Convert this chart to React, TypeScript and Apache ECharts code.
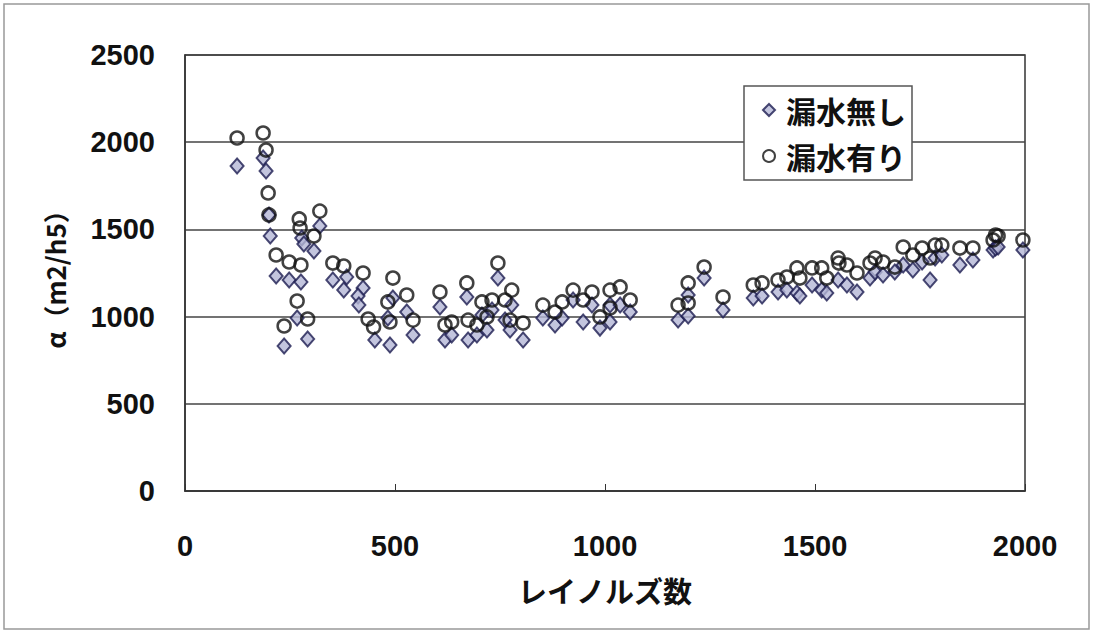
import React, { useEffect, useRef } from "react";
import * as echarts from "echarts";

// レイノルズ数 (x) and α (y) for 漏水無し (diamonds)
const noLeakRe = [124, 186, 193, 200, 203, 217, 248, 276, 278, 283, 267, 236, 292, 321, 307, 352, 378, 385, 424, 412, 414, 452,
  495, 483, 488, 528, 543, 607, 619, 635, 671, 674, 695, 707, 719, 731, 745, 762, 778, 774, 805, 852, 881, 898,
  924, 948, 969, 988, 1012, 1012, 1036, 1060, 1174, 1198, 1198, 1236, 1281, 1353, 1374, 1412, 1433, 1457, 1464,
  1493, 1516, 1528, 1555, 1576, 1600, 1631, 1643, 1662, 1690, 1710, 1733, 1755, 1774, 1786, 1802, 1845, 1876,
  1924, 1930, 1936, 1995];
const noLeakAlpha = [1864, 1909, 1835, 1583, 1462, 1233, 1210, 1198, 1451, 1416, 992, 831, 872, 1519, 1376, 1210, 1152, 1227, 1164, 1118, 1066, 866,
  1107, 992, 837, 1026, 894, 1055, 866, 894, 1112, 866, 894, 1009, 923, 1038, 1221, 980, 1066, 923, 866, 992, 952, 992,
  1095, 969, 1066, 934, 1066, 969, 1066, 1026, 980, 1124, 1003, 1221, 1038, 1107, 1118, 1141, 1152, 1135, 1118,
  1181, 1152, 1135, 1210, 1181, 1141, 1221, 1256, 1238, 1256, 1296, 1267, 1313, 1210, 1336, 1353, 1296, 1324,
  1382, 1393, 1399, 1382];

// レイノルズ数 (x) and α (y) for 漏水有り (circles)
const leakRe = [124, 186, 193, 198, 200, 217, 248, 276, 272, 274, 267, 236, 292, 321, 307, 352, 378, 424, 436, 449,
  495, 483, 488, 528, 543, 607, 619, 635, 671, 674, 695, 707, 719, 731, 745, 762, 778, 774, 805, 852, 881, 898,
  924, 948, 969, 988, 1012, 1012, 1036, 1060, 1174, 1198, 1198, 1236, 1281, 1353, 1374, 1412, 1433, 1457, 1464,
  1493, 1516, 1528, 1555, 1557, 1576, 1600, 1631, 1643, 1662, 1690, 1710, 1733, 1755, 1774, 1786, 1802, 1845, 1876,
  1924, 1930, 1936, 1995];
const leakAlpha = [2024, 2053, 1955, 1709, 1583, 1353, 1313, 1296, 1560, 1508, 1089, 946, 986, 1605, 1462, 1307, 1290, 1250, 986, 940,
  1221, 1084, 969, 1124, 980, 1141, 952, 969, 1193, 980, 952, 1084, 998, 1095, 1307, 1095, 1152, 980, 963, 1066, 1026, 1084,
  1152, 1095, 1141, 998, 1152, 1049, 1170, 1095, 1066, 1193, 1078, 1284, 1112, 1181, 1193, 1210, 1227, 1279, 1221,
  1279, 1279, 1221, 1336, 1307, 1296, 1250, 1307, 1336, 1313, 1284, 1399, 1353, 1393, 1336, 1410, 1410, 1393, 1393,
  1439, 1468, 1462, 1439];

const seriesNames = ["漏水無し", "漏水有り"];
const xTicks = [0, 500, 1000, 1500, 2000];
const yTicks = [0, 500, 1000, 1500, 2000, 2500];

export default function App() {
  const ref = useRef<HTMLDivElement>(null);
  useEffect(() => {
    document.body.style.margin = "0";
    const chart = echarts.init(ref.current!, null, { renderer: "svg" });
    const font = "'Liberation Sans', Arial, 'Noto Sans CJK JP', sans-serif";
    const jp = "'Noto Sans CJK JP', sans-serif";
    chart.setOption({
      animation: false,
      backgroundColor: "#ffffff",
      graphic: [
        {
          type: "rect",
          shape: { x: 4, y: 4, width: 1085, height: 625 },
          style: { fill: "none", stroke: "#999", lineWidth: 1.5 },
          silent: true,
        },
      ],
      grid: {
        left: 185,
        top: 55,
        right: 70,
        bottom: 144,
        show: true,
        borderColor: "#333",
        borderWidth: 1.5,
      },
      legend: {
        orient: "vertical",
        left: 744,
        top: 86,
        backgroundColor: "#fff",
        borderColor: "#555",
        borderWidth: 1.5,
        padding: [5, 6, 5, 18],
        itemGap: 8,
        itemWidth: 12,
        itemHeight: 12,
        textStyle: { fontSize: 30, lineHeight: 38, fontFamily: jp, fontWeight: "bold", color: "#111", padding: [0, 0, 0, 6] },
        data: [
          { name: seriesNames[0], icon: "diamond" },
          { name: seriesNames[1], icon: "circle" },
        ],
      },
      xAxis: {
        type: "value",
        min: xTicks[0],
        max: xTicks[xTicks.length - 1],
        interval: 500,
        name: "レイノルズ数",
        nameLocation: "middle",
        nameGap: 84,
        nameTextStyle: { fontSize: 29, fontFamily: jp, fontWeight: "bold", color: "#111" },
        axisLine: { show: true, lineStyle: { color: "#333", width: 1.5 } },
        axisTick: { show: true, inside: true, length: 7, lineStyle: { color: "#333" } },
        axisLabel: { fontSize: 29, fontFamily: font, fontWeight: "bold", color: "#111", margin: 40, formatter: (v: number) => String(v) },
        splitLine: { show: false },
      },
      yAxis: {
        type: "value",
        min: yTicks[0],
        max: yTicks[yTicks.length - 1],
        interval: 500,
        name: "α（m2/h5）",
        nameLocation: "middle",
        nameGap: 118,
        nameRotate: 90,
        nameTextStyle: { fontSize: 26, fontFamily: jp, fontWeight: "bold", color: "#111" },
        axisLine: { show: true, lineStyle: { color: "#333", width: 1.5 } },
        axisTick: { show: false },
        axisLabel: { fontSize: 29, fontFamily: font, fontWeight: "bold", color: "#111", margin: 30, formatter: (v: number) => String(v) },
        splitLine: { show: true, lineStyle: { color: "#444", width: 1.5 } },
      },
      series: [
        {
          name: seriesNames[0],
          type: "scatter",
          symbol: "diamond",
          symbolSize: [13, 15],
          itemStyle: { color: "#b4b6d6", borderColor: "#1c1c50", borderWidth: 2 },
          data: noLeakRe.map((x, i) => [x, noLeakAlpha[i]]),
          z: 2,
        },
        {
          name: seriesNames[1],
          type: "scatter",
          symbol: "circle",
          symbolSize: 13,
          itemStyle: { color: "rgba(255,255,255,0)", borderColor: "#111", borderWidth: 2.5 },
          data: leakRe.map((x, i) => [x, leakAlpha[i]]),
          z: 3,
        },
      ],
    });
    return () => chart.dispose();
  }, []);
  return <div ref={ref} style={{ width: 1095, height: 635 }} />;
}
